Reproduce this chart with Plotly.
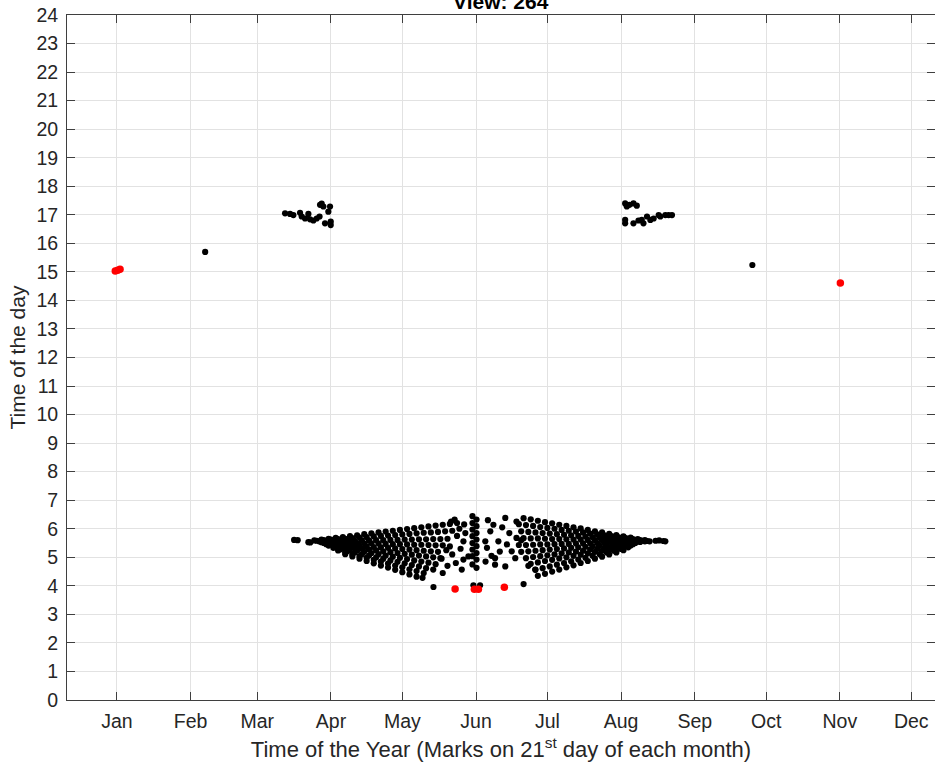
import plotly.graph_objects as go

# Month marks: 21st day of each month (day of year)
month_tick_day = [21, 52, 80, 111, 141, 172, 202, 233, 264, 294, 325, 355]
month_tick_label = ["Jan", "Feb", "Mar", "Apr", "May", "Jun",
                    "Jul", "Aug", "Sep", "Oct", "Nov", "Dec"]
hour_ticks = list(range(0, 25))

# Morning band, spring side (fan of streaks opening toward late June)
left_fan_day = [
    95.5, 97.0, 101.5, 102.3,
    104, 107, 110, 113, 116, 119, 122, 125, 128, 131, 134, 137, 140, 143, 146, 149, 152, 155, 158, 161, 164,
    105, 108, 111, 114, 117, 120, 123, 126, 129, 132, 135, 138, 141, 144, 147, 150, 153, 156, 159, 162,
    106, 109, 112, 115, 118, 121, 124, 127, 130, 133, 136, 139, 142, 145, 148, 151, 154, 157, 160,
    107, 110, 113, 116, 119, 122, 125, 128, 131, 134, 137, 140, 143, 146, 149, 152, 155, 158,
    108, 111, 114, 117, 120, 123, 126, 129, 132, 135, 138, 141, 144, 147, 150, 153, 156,
    109, 112, 115, 118, 121, 124, 127, 130, 133, 136, 139, 142, 145, 148, 151, 154, 157,
    110, 113, 116, 119, 122, 125, 128, 131, 134, 137, 140, 143, 146, 149, 152, 155,
    112, 115, 118, 121, 124, 127, 130, 133, 136, 139, 142, 145, 148, 151, 154,
    114, 117, 120, 123, 126, 129, 132, 135, 138, 141, 144, 147, 150,
    117, 120, 123, 126, 129, 132, 135, 138, 141, 144, 147, 149.5,
]
left_fan_hour = [
    5.61, 5.60, 5.53, 5.52,
    5.59, 5.62, 5.65, 5.68, 5.71, 5.74, 5.77, 5.81, 5.84, 5.87, 5.90, 5.93, 5.96, 5.99, 6.02, 6.05, 6.08, 6.11, 6.14, 6.17, 6.20,
    5.58, 5.60, 5.62, 5.64, 5.65, 5.67, 5.69, 5.71, 5.73, 5.75, 5.76, 5.78, 5.80, 5.82, 5.84, 5.86, 5.87, 5.89, 5.91, 5.93,
    5.56, 5.56, 5.57, 5.57, 5.58, 5.58, 5.59, 5.59, 5.60, 5.60, 5.61, 5.61, 5.62, 5.62, 5.63, 5.63, 5.64, 5.64, 5.65,
    5.53, 5.53, 5.52, 5.51, 5.51, 5.50, 5.49, 5.49, 5.48, 5.47, 5.46, 5.46, 5.45, 5.44, 5.44, 5.43, 5.42, 5.42,
    5.50, 5.48, 5.46, 5.44, 5.42, 5.40, 5.38, 5.36, 5.35, 5.33, 5.31, 5.29, 5.27, 5.25, 5.23, 5.21, 5.19,
    5.46, 5.43, 5.40, 5.37, 5.34, 5.31, 5.27, 5.24, 5.21, 5.18, 5.15, 5.12, 5.09, 5.06, 5.03, 5.00, 4.97,
    5.41, 5.36, 5.32, 5.28, 5.24, 5.19, 5.15, 5.11, 5.06, 5.02, 4.98, 4.94, 4.89, 4.85, 4.81, 4.76,
    5.33, 5.28, 5.22, 5.17, 5.11, 5.06, 5.00, 4.95, 4.89, 4.84, 4.79, 4.73, 4.68, 4.62, 4.57,
    5.24, 5.18, 5.11, 5.04, 4.98, 4.91, 4.85, 4.78, 4.71, 4.65, 4.58, 4.52, 4.45,
    5.11, 5.03, 4.95, 4.87, 4.79, 4.71, 4.64, 4.56, 4.48, 4.40, 4.32, 4.28,
]

# Around the solstice: scattered points and the two vertical columns
core_day = [
    163.0, 166.7, 166.7, 166.0, 168.8, 160.0, 158.0, 162.0, 164.0, 161.0, 165.0, 167.0,
    159.5, 163.5, 157.5, 165.5, 167.5, 161.5,
    170.5, 170.5, 170.5, 170.5, 170.5, 170.5, 170.5, 170.5,
    172.2, 172.2, 172.2, 172.2, 172.2, 172.2, 172.2, 172.2,
    179.3, 178.0, 184.3, 181.4, 180.0, 180.0, 184.3, 187.0, 188.5, 196.9, 175.9, 176.6,
    177.0, 182.0, 186.0, 189.0, 191.0, 185.0, 178.5, 183.0, 176.0, 194.0,
    154.1, 170.9, 173.7, 192.0,
]
core_hour = [
    6.32, 5.56, 4.92, 4.57, 5.03, 4.70, 4.45, 5.10, 5.75, 5.38, 6.00, 6.15,
    5.25, 4.80, 4.95, 5.30, 5.85, 6.25,
    6.44, 6.20, 5.97, 5.74, 5.50, 5.27, 5.04, 4.75,
    6.32, 6.09, 5.85, 5.62, 5.39, 5.15, 4.92, 4.63,
    6.14, 5.91, 6.38, 5.56, 4.97, 4.74, 4.68, 5.21, 4.97, 4.57, 5.56, 5.33,
    6.30, 5.20, 5.85, 6.25, 5.60, 5.45, 5.05, 6.05, 4.85, 4.70,
    3.96, 4.02, 4.02, 4.06,
]

# Morning band, summer side (streaks closing toward late August)
right_fan_day = [
    192, 195, 198, 201, 204, 207, 210, 213, 216, 219, 222, 225, 228, 231, 234, 237, 240, 243,
    190, 193, 196, 199, 202, 205, 208, 211, 214, 217, 220, 223, 226, 229, 232, 235, 238, 241, 244,
    191, 194, 197, 200, 203, 206, 209, 212, 215, 218, 221, 224, 227, 230, 233, 236, 239, 242, 245,
    189, 192, 195, 198, 201, 204, 207, 210, 213, 216, 219, 222, 225, 228, 231, 234, 237, 240, 243,
    190, 193, 196, 199, 202, 205, 208, 211, 214, 217, 220, 223, 226, 229, 232, 235, 238, 241,
    191, 194, 197, 200, 203, 206, 209, 212, 215, 218, 221, 224, 227, 230, 233, 236, 239,
    193, 196, 199, 202, 205, 208, 211, 214, 217, 220, 223, 226, 229, 232, 235, 238,
    195, 198, 201, 204, 207, 210, 213, 216, 219, 222, 225, 228, 231, 234, 237,
    197, 200, 203, 206, 209, 212, 215, 218, 221, 224, 227, 230, 233, 236,
    198, 201, 204, 207, 210, 213, 216, 219, 222, 225, 228, 231, 234,
    247.5, 249.0, 250.8, 251.6,
]
right_fan_hour = [
    6.37, 6.33, 6.28, 6.23, 6.19, 6.14, 6.10, 6.05, 6.01, 5.96, 5.91, 5.87, 5.82, 5.78, 5.73, 5.69, 5.64, 5.60,
    6.16, 6.13, 6.10, 6.06, 6.03, 6.00, 5.96, 5.93, 5.90, 5.87, 5.83, 5.80, 5.77, 5.74, 5.70, 5.67, 5.64, 5.60, 5.57,
    5.91, 5.89, 5.87, 5.85, 5.83, 5.81, 5.79, 5.77, 5.75, 5.73, 5.71, 5.69, 5.67, 5.65, 5.63, 5.62, 5.60, 5.58, 5.56,
    5.68, 5.67, 5.66, 5.66, 5.65, 5.64, 5.64, 5.63, 5.62, 5.62, 5.61, 5.60, 5.60, 5.59, 5.58, 5.58, 5.57, 5.56, 5.56,
    5.43, 5.43, 5.44, 5.45, 5.45, 5.46, 5.47, 5.47, 5.48, 5.49, 5.49, 5.50, 5.51, 5.51, 5.52, 5.53, 5.53, 5.54,
    5.19, 5.21, 5.23, 5.25, 5.27, 5.29, 5.31, 5.33, 5.35, 5.37, 5.39, 5.41, 5.43, 5.45, 5.47, 5.48, 5.50,
    4.97, 5.01, 5.04, 5.07, 5.10, 5.14, 5.17, 5.20, 5.23, 5.27, 5.30, 5.33, 5.36, 5.40, 5.43, 5.46,
    4.77, 4.82, 4.87, 4.91, 4.96, 5.00, 5.05, 5.09, 5.14, 5.19, 5.23, 5.28, 5.32, 5.37, 5.41,
    4.56, 4.62, 4.68, 4.74, 4.80, 4.86, 4.92, 4.98, 5.05, 5.11, 5.17, 5.23, 5.29, 5.35,
    4.35, 4.42, 4.50, 4.57, 4.65, 4.72, 4.80, 4.87, 4.95, 5.02, 5.10, 5.17, 5.25,
    5.58, 5.59, 5.57, 5.56,
]

# Afternoon groups near 17 h and isolated afternoon points
evening_day = [
    91.7, 93.8, 95.2, 98.0, 98.7, 100.1, 101.5, 102.2, 103.6, 105.0, 106.2, 106.4, 107.8,
    108.5, 109.9, 110.6, 110.9, 110.9, 107.1,
    234.7, 235.4, 238.2, 239.6, 234.7, 234.7, 238.2, 240.3, 241.7, 243.9, 245.3, 246.7,
    248.8, 249.5, 251.6, 253.0, 254.4, 242.4, 236.5,
    58.1, 288.2,
]
evening_hour = [
    17.05, 17.03, 16.99, 17.07, 16.94, 16.87, 17.03, 16.84, 16.80, 16.87, 16.94, 17.35, 17.29,
    16.70, 17.11, 17.29, 16.76, 16.64, 17.39,
    17.40, 17.29, 17.40, 17.32, 16.82, 16.70, 16.70, 16.80, 16.82, 16.94, 16.82, 16.87,
    16.99, 16.94, 16.99, 16.99, 16.99, 16.70, 17.35,
    15.70, 15.24,
]

# Highlighted events
red_day = [20.3, 21.3, 22.3, 325.2, 163.2, 171.3, 173.0, 183.9]
red_hour = [15.03, 15.06, 15.09, 14.61, 3.89, 3.88, 3.88, 3.95]

black_day = left_fan_day + core_day + right_fan_day + evening_day
black_hour = left_fan_hour + core_hour + right_fan_hour + evening_hour

FONT = "Liberation Sans, Arial, Helvetica, sans-serif"
TEXT = "#262626"
GRID = "#e2e2e2"
AXIS = "#3f3f3f"

fig = go.Figure()
fig.add_trace(go.Scatter(
    x=black_day, y=black_hour, mode="markers",
    marker=dict(color="black", size=6.2, line=dict(width=0)),
    showlegend=False, hoverinfo="x+y",
))
fig.add_trace(go.Scatter(
    x=red_day, y=red_hour, mode="markers",
    marker=dict(color="#ff0000", size=7.5, line=dict(width=0)),
    showlegend=False, hoverinfo="x+y",
))

fig.update_layout(
    width=935, height=776,
    margin=dict(l=67, r=0, t=15, b=76),
    paper_bgcolor="white", plot_bgcolor="white",
    font=dict(family=FONT, color=TEXT, size=19),
    annotations=[dict(
        text="<b>View: 264</b>", x=0.5, xref="paper", y=1, yref="paper",
        xanchor="center", yanchor="bottom", yshift=0, showarrow=False,
        font=dict(family=FONT, size=21, color="#000000"),
    )],
)

fig.update_xaxes(
    range=[0, 365], tickmode="array", tickvals=month_tick_day, ticktext=month_tick_label,
    ticks="inside", ticklen=8, tickwidth=1, tickcolor=AXIS,
    showline=True, linecolor=AXIS, linewidth=1, mirror="ticks",
    showgrid=True, gridcolor=GRID, gridwidth=1, zeroline=False,
    tickfont=dict(size=19.5, color=TEXT), ticklabelstandoff=4,
    title=dict(text="Time of the Year (Marks on 21<sup>st</sup> day of each month)",
               font=dict(size=22, color=TEXT), standoff=10),
)
fig.update_yaxes(
    range=[0, 24], tickmode="array", tickvals=hour_ticks,
    ticktext=[str(h) for h in hour_ticks],
    ticks="inside", ticklen=8, tickwidth=1, tickcolor=AXIS,
    showline=True, linecolor=AXIS, linewidth=1, mirror="ticks",
    showgrid=True, gridcolor=GRID, gridwidth=1, zeroline=False,
    tickfont=dict(size=19.5, color=TEXT), ticklabelstandoff=4,
    title=dict(text="Time of the day", font=dict(size=21, color=TEXT), standoff=5),
)

fig.write_html("out.html")
